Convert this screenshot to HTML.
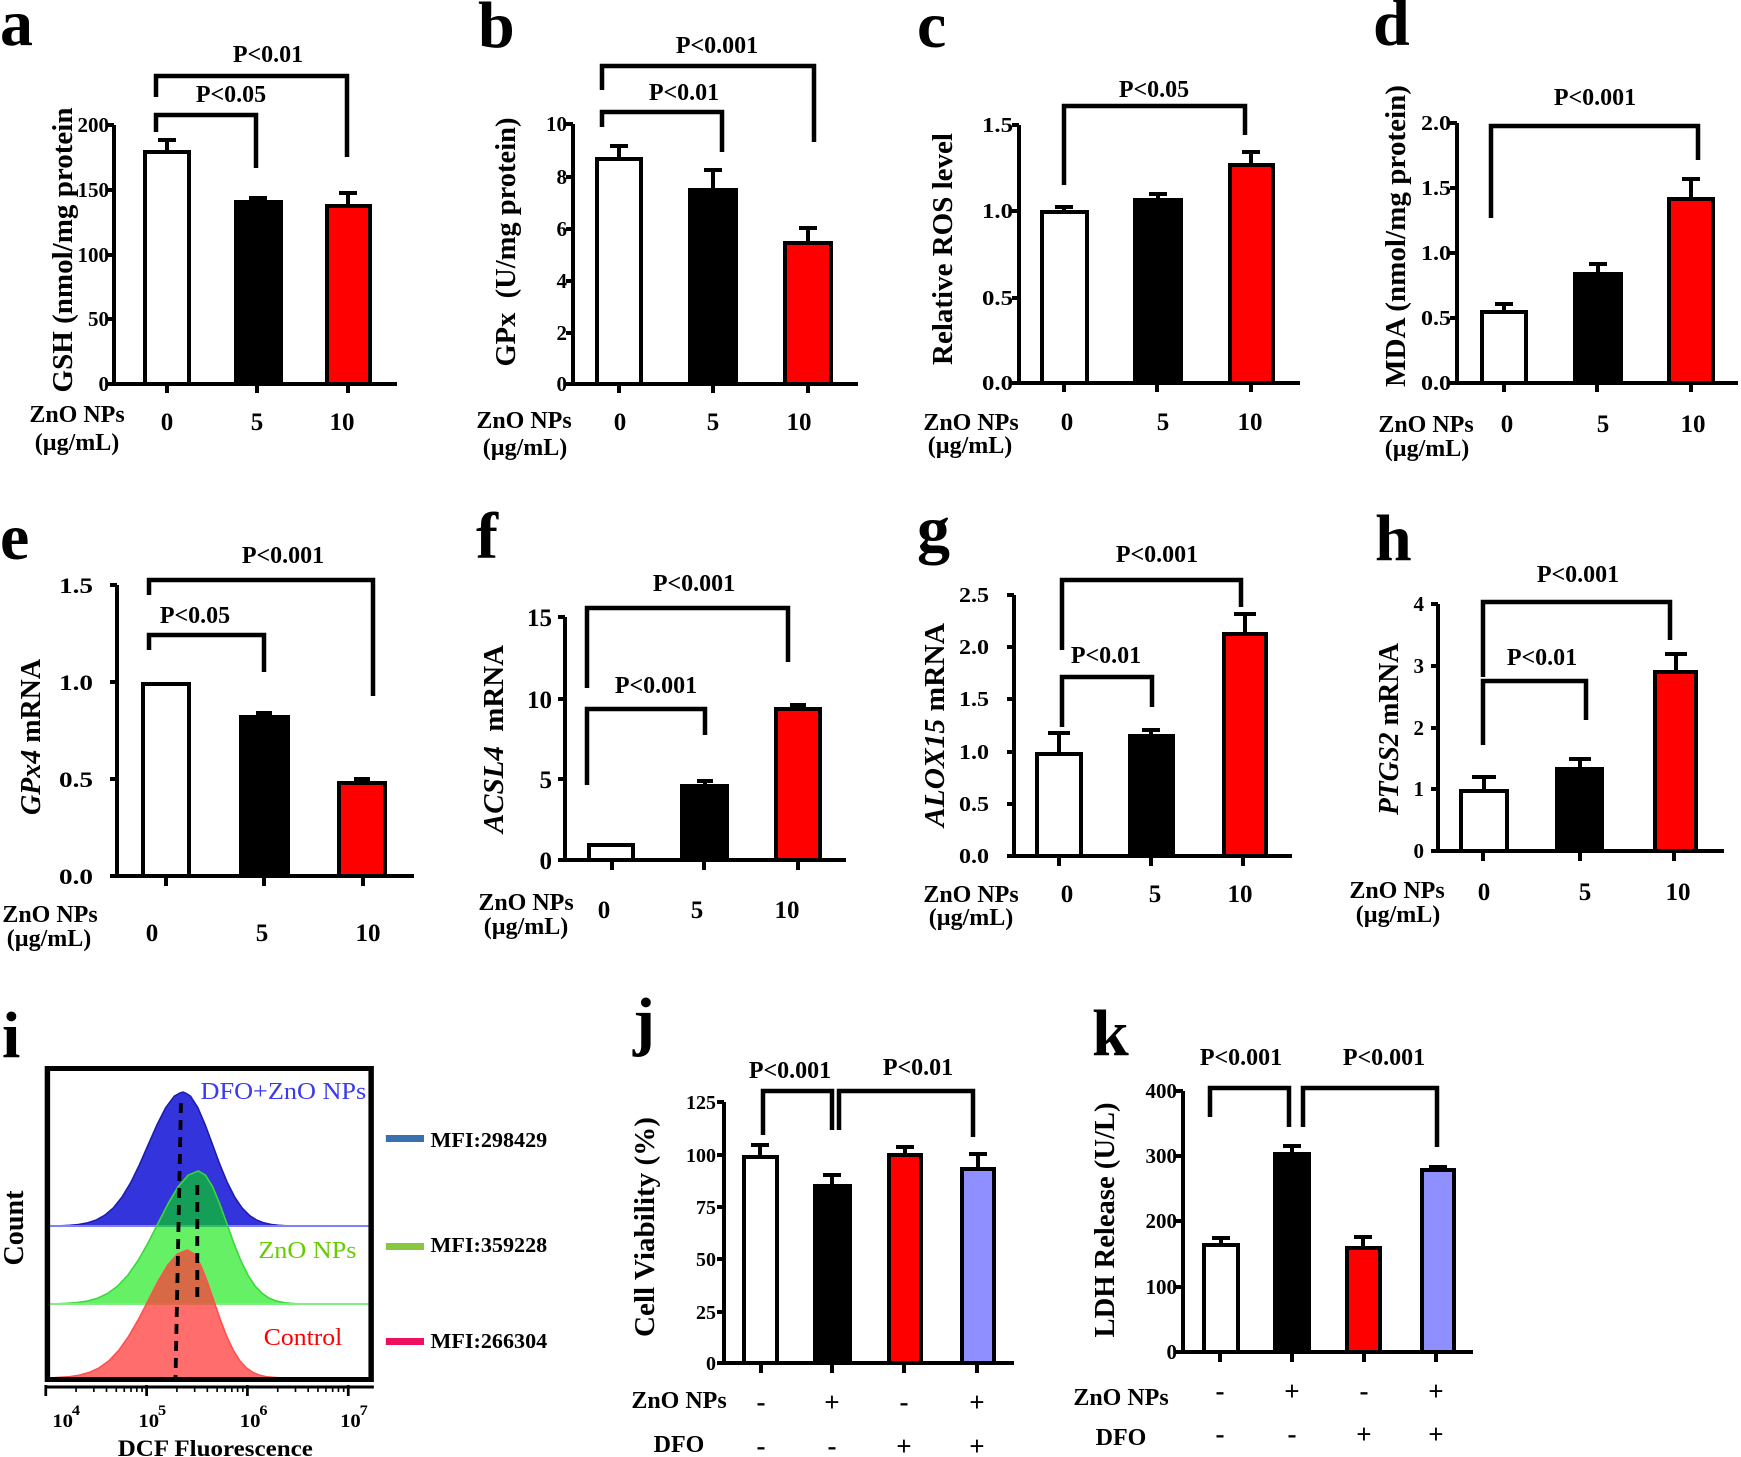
<!DOCTYPE html>
<html>
<head>
<meta charset="utf-8">
<style>
html,body{margin:0;padding:0;background:#fff;}
svg{display:block;}
</style>
</head>
<body>
<svg width="1741" height="1457" viewBox="0 0 1741 1457" xmlns="http://www.w3.org/2000/svg">
<rect width="1741" height="1457" fill="#fff"/>
<g font-family="'Liberation Serif', serif" font-weight="bold" fill="#000">

<!-- panel letters -->
<g font-size="66">
<text x="0" y="45">a</text>
<text x="478" y="47">b</text>
<text x="917" y="47">c</text>
<text x="1373" y="45">d</text>
<text x="0" y="559">e</text>
<text x="476" y="558">f</text>
<text x="917" y="551">g</text>
<text x="1375" y="560">h</text>
<text x="2" y="1057">i</text>
<text x="633" y="1043">j</text>
<text x="1092" y="1055">k</text>
</g>

<!-- ================= BARS ================= -->
<g stroke="#000" stroke-width="4">
<!-- a -->
<rect x="145" y="152" width="44" height="232" fill="#fff"/>
<rect x="236" y="202" width="45" height="182" fill="#000"/>
<rect x="327" y="206" width="43" height="178" fill="#f00"/>
<!-- b -->
<rect x="597" y="159" width="44" height="225" fill="#fff"/>
<rect x="690" y="190" width="46" height="194" fill="#000"/>
<rect x="785" y="243" width="46" height="141" fill="#f00"/>
<!-- c -->
<rect x="1042" y="212" width="45" height="171" fill="#fff"/>
<rect x="1135" y="200" width="46" height="183" fill="#000"/>
<rect x="1230" y="165" width="43" height="218" fill="#f00"/>
<!-- d -->
<rect x="1482" y="312" width="44" height="71" fill="#fff"/>
<rect x="1575" y="274" width="46" height="109" fill="#000"/>
<rect x="1669" y="199" width="44" height="184" fill="#f00"/>
<!-- e -->
<rect x="143" y="684" width="46" height="192" fill="#fff"/>
<rect x="241" y="717" width="47" height="159" fill="#000"/>
<rect x="339" y="783" width="46" height="93" fill="#f00"/>
<!-- f -->
<rect x="589" y="845" width="44" height="15" fill="#fff"/>
<rect x="682" y="786" width="45" height="74" fill="#000"/>
<rect x="776" y="709" width="44" height="151" fill="#f00"/>
<!-- g -->
<rect x="1037" y="754" width="44" height="102" fill="#fff"/>
<rect x="1130" y="736" width="43" height="120" fill="#000"/>
<rect x="1224" y="634" width="42" height="222" fill="#f00"/>
<!-- h -->
<rect x="1461" y="791" width="46" height="60" fill="#fff"/>
<rect x="1557" y="769" width="45" height="82" fill="#000"/>
<rect x="1655" y="672" width="41" height="179" fill="#f00"/>
<!-- j -->
<rect x="744" y="1157" width="33" height="206" fill="#fff"/>
<rect x="815" y="1186" width="35" height="177" fill="#000"/>
<rect x="889" y="1155" width="32" height="208" fill="#f00"/>
<rect x="962" y="1169" width="32" height="194" fill="#8f8fff"/>
<!-- k -->
<rect x="1204" y="1245" width="34" height="107" fill="#fff"/>
<rect x="1275" y="1154" width="34" height="198" fill="#000"/>
<rect x="1347" y="1248" width="33" height="104" fill="#f00"/>
<rect x="1422" y="1170" width="32" height="182" fill="#8f8fff"/>
</g>

<!-- ================= AXES, ERRORS, BRACKETS ================= -->
<g stroke="#000" stroke-width="4" fill="none" stroke-linejoin="miter" stroke-linecap="butt">
<!-- a -->
<path d="M114,125V384H397 M107,125H114 M107,190H114 M107,255H114 M107,319H114 M107,384H114 M167,384V393 M257,384V393 M348,384V393"/>
<path d="M167,150V140 M158,140H176 M258,200V198 M249,198H267 M348,204V193 M339,193H357"/>
<path stroke-width="4.5" d="M156,132V115H256V168 M156,97V76H347V157"/>
<!-- b -->
<path d="M573,124V384H858 M566,124H573 M566,177H573 M566,229H573 M566,281H573 M566,333H573 M566,384H573 M619,384V393 M713,384V393 M808,384V393"/>
<path d="M619,157V146 M610,146H628 M713,188V170 M704,170H722 M808,241V228 M799,228H817"/>
<path stroke-width="4.5" d="M602,127V112H722V152 M602,90V66H814V142"/>
<!-- c -->
<path d="M1019,125V383H1300 M1012,125H1019 M1012,211H1019 M1012,298H1019 M1012,383H1019 M1064,383V392 M1157,383V392 M1251,383V392"/>
<path d="M1064,210V207 M1055,207H1073 M1158,198V194 M1149,194H1167 M1251,163V152 M1242,152H1260"/>
<path stroke-width="4.5" d="M1064,185V106H1245V135"/>
<!-- d -->
<path d="M1457,123V383H1738 M1450,123H1457 M1450,188H1457 M1450,253H1457 M1450,318H1457 M1450,383H1457 M1504,383V392 M1597,383V392 M1691,383V392"/>
<path d="M1504,310V304 M1495,304H1513 M1598,272V264 M1589,264H1607 M1691,197V179 M1682,179H1700"/>
<path stroke-width="4.5" d="M1491,218V126H1698V160"/>
<!-- e -->
<path d="M117,585V876H414 M110,585H117 M110,682H117 M110,779H117 M110,876H117 M166,876V886 M264,876V886 M363,876V886"/>
<path d="M264,715V713 M256,713H272 M362,781V779 M354,779H370"/>
<path stroke-width="4.5" d="M149,650V635H264V672 M149,595V580H373V696"/>
<!-- f -->
<path d="M565,617V860H846 M558,617H565 M558,699H565 M558,779H565 M558,860H565 M612,860V870 M704,860V870 M798,860V870"/>
<path d="M705,784V781 M697,781H713 M798,707V705 M790,705H806"/>
<path stroke-width="4.5" d="M587,785V709H705V735 M587,688V608H788V662"/>
<!-- g -->
<path d="M1014,595V856H1292 M1007,595H1014 M1007,647H1014 M1007,699H1014 M1007,752H1014 M1007,804H1014 M1007,856H1014 M1059,856V866 M1151,856V866 M1243,856V866"/>
<path d="M1059,752V733 M1048,733H1070 M1151,734V730 M1142,730H1160 M1245,632V614 M1234,614H1256"/>
<path stroke-width="4.5" d="M1062,727V677H1152V707 M1062,650V580H1241V607"/>
<!-- h -->
<path d="M1438,604V851H1724 M1431,604H1438 M1431,666H1438 M1431,728H1438 M1431,789H1438 M1431,851H1438 M1483,851V861 M1580,851V861 M1674,851V861"/>
<path d="M1484,789V777 M1472,777H1496 M1580,767V759 M1569,759H1591 M1676,670V654 M1665,654H1687"/>
<path stroke-width="4.5" d="M1483,745V681H1586V720 M1483,677V602H1670V640"/>
<!-- j -->
<path d="M724,1102V1363H1014 M717,1102H724 M717,1155H724 M717,1207H724 M717,1259H724 M717,1312H724 M717,1363H724 M761,1363V1373 M832,1363V1373 M904,1363V1373 M977,1363V1373"/>
<path d="M760,1155V1145 M751,1145H769 M832,1184V1175 M823,1175H841 M905,1153V1147 M896,1147H914 M978,1167V1154 M969,1154H987"/>
<path stroke-width="4.5" d="M763,1135V1091H832V1130 M839,1130V1091H973V1137"/>
<!-- k -->
<path d="M1183,1091V1352H1473 M1176,1091H1183 M1176,1156H1183 M1176,1221H1183 M1176,1287H1183 M1176,1352H1183 M1220,1352V1362 M1292,1352V1362 M1364,1352V1362 M1436,1352V1362"/>
<path d="M1221,1243V1238 M1212,1238H1230 M1292,1152V1146 M1283,1146H1301 M1363,1246V1237 M1354,1237H1372 M1438,1168V1167 M1429,1167H1447"/>
<path stroke-width="4.5" d="M1210,1117V1088H1289V1127 M1303,1127V1088H1437V1147"/>
</g>

<!-- ================= P VALUES ================= -->
<g font-size="24" text-anchor="middle">
<text x="231" y="102">P&lt;0.05</text>
<text x="268" y="62">P&lt;0.01</text>
<text x="684" y="100">P&lt;0.01</text>
<text x="717" y="53">P&lt;0.001</text>
<text x="1154" y="97">P&lt;0.05</text>
<text x="1595" y="105">P&lt;0.001</text>
<text x="195" y="623">P&lt;0.05</text>
<text x="283" y="563">P&lt;0.001</text>
<text x="656" y="693">P&lt;0.001</text>
<text x="694" y="591">P&lt;0.001</text>
<text x="1106" y="663">P&lt;0.01</text>
<text x="1157" y="562">P&lt;0.001</text>
<text x="1542" y="665">P&lt;0.01</text>
<text x="1578" y="582">P&lt;0.001</text>
<text x="790" y="1078">P&lt;0.001</text>
<text x="918" y="1075">P&lt;0.01</text>
<text x="1241" y="1065">P&lt;0.001</text>
<text x="1384" y="1065">P&lt;0.001</text>
</g>

<!-- ================= Y TICK LABELS ================= -->
<g font-size="21" text-anchor="end">
<text x="109" y="132">200</text><text x="109" y="197">150</text><text x="109" y="262">100</text><text x="109" y="326">50</text><text x="109" y="391">0</text>
<text x="567" y="131">10</text><text x="567" y="184">8</text><text x="567" y="236">6</text><text x="567" y="288">4</text><text x="567" y="340">2</text><text x="567" y="391">0</text>
<text x="1013" y="132" textLength="31" lengthAdjust="spacingAndGlyphs">1.5</text><text x="1013" y="218" textLength="31" lengthAdjust="spacingAndGlyphs">1.0</text><text x="1013" y="305" textLength="31" lengthAdjust="spacingAndGlyphs">0.5</text><text x="1013" y="390" textLength="31" lengthAdjust="spacingAndGlyphs">0.0</text>
<text x="1451" y="130" textLength="30" lengthAdjust="spacingAndGlyphs">2.0</text><text x="1451" y="195" textLength="30" lengthAdjust="spacingAndGlyphs">1.5</text><text x="1451" y="260" textLength="30" lengthAdjust="spacingAndGlyphs">1.0</text><text x="1451" y="325" textLength="30" lengthAdjust="spacingAndGlyphs">0.5</text><text x="1451" y="390" textLength="30" lengthAdjust="spacingAndGlyphs">0.0</text>
<text x="93" y="593" font-size="22" textLength="34" lengthAdjust="spacingAndGlyphs">1.5</text><text x="93" y="690" font-size="22" textLength="34" lengthAdjust="spacingAndGlyphs">1.0</text><text x="93" y="787" font-size="22" textLength="34" lengthAdjust="spacingAndGlyphs">0.5</text><text x="93" y="884" font-size="22" textLength="34" lengthAdjust="spacingAndGlyphs">0.0</text>
<text x="552" y="626" font-size="25">15</text><text x="552" y="708" font-size="25">10</text><text x="552" y="788" font-size="25">5</text><text x="552" y="869" font-size="25">0</text>
<text x="989" y="602" textLength="30" lengthAdjust="spacingAndGlyphs">2.5</text><text x="989" y="654" textLength="30" lengthAdjust="spacingAndGlyphs">2.0</text><text x="989" y="706" textLength="30" lengthAdjust="spacingAndGlyphs">1.5</text><text x="989" y="759" textLength="30" lengthAdjust="spacingAndGlyphs">1.0</text><text x="989" y="811" textLength="30" lengthAdjust="spacingAndGlyphs">0.5</text><text x="989" y="863" textLength="30" lengthAdjust="spacingAndGlyphs">0.0</text>
<text x="1424" y="611">4</text><text x="1424" y="673">3</text><text x="1424" y="735">2</text><text x="1424" y="796">1</text><text x="1424" y="858">0</text>
<text x="716" y="1109" font-size="20">125</text><text x="716" y="1162" font-size="20">100</text><text x="716" y="1214" font-size="20">75</text><text x="716" y="1266" font-size="20">50</text><text x="716" y="1319" font-size="20">25</text><text x="716" y="1370" font-size="20">0</text>
<text x="1177" y="1098">400</text><text x="1177" y="1163">300</text><text x="1177" y="1228">200</text><text x="1177" y="1294">100</text><text x="1177" y="1359">0</text>
</g>

<!-- ================= X TICK LABELS ================= -->
<g font-size="25" text-anchor="middle">
<text x="167" y="430">0</text><text x="257" y="430">5</text><text x="342" y="430">10</text>
<text x="620" y="430">0</text><text x="713" y="430">5</text><text x="799" y="430">10</text>
<text x="1067" y="430">0</text><text x="1163" y="430">5</text><text x="1250" y="430">10</text>
<text x="1507" y="432">0</text><text x="1603" y="432">5</text><text x="1693" y="432">10</text>
<text x="152" y="941">0</text><text x="262" y="941">5</text><text x="368" y="941">10</text>
<text x="604" y="918">0</text><text x="697" y="918">5</text><text x="787" y="918">10</text>
<text x="1067" y="902">0</text><text x="1155" y="902">5</text><text x="1240" y="902">10</text>
<text x="1484" y="900">0</text><text x="1585" y="900">5</text><text x="1678" y="900">10</text>
</g>

<!-- ZnO NPs / units -->
<g font-size="24" text-anchor="middle">
<text x="77" y="422">ZnO NPs</text><text x="77" y="450">(µg/mL)</text>
<text x="524" y="428">ZnO NPs</text><text x="525" y="455">(µg/mL)</text>
<text x="971" y="430">ZnO NPs</text><text x="970" y="453">(µg/mL)</text>
<text x="1426" y="432">ZnO NPs</text><text x="1427" y="456">(µg/mL)</text>
<text x="50" y="922">ZnO NPs</text><text x="49" y="946">(µg/mL)</text>
<text x="526" y="910">ZnO NPs</text><text x="526" y="934">(µg/mL)</text>
<text x="971" y="902">ZnO NPs</text><text x="971" y="925">(µg/mL)</text>
<text x="1397" y="898">ZnO NPs</text><text x="1398" y="922">(µg/mL)</text>
<text x="679" y="1408">ZnO NPs</text><text x="679" y="1452">DFO</text>
<text x="1121" y="1405">ZnO NPs</text><text x="1121" y="1445">DFO</text>
</g>

<!-- +/- signs -->
<g font-size="27" text-anchor="middle">
<text x="761" y="1411">-</text><text x="832" y="1411">+</text><text x="904" y="1411">-</text><text x="977" y="1411">+</text>
<text x="761" y="1455">-</text><text x="832" y="1455">-</text><text x="904" y="1455">+</text><text x="977" y="1455">+</text>
<text x="1220" y="1400">-</text><text x="1292" y="1400">+</text><text x="1364" y="1400">-</text><text x="1436" y="1400">+</text>
<text x="1220" y="1443">-</text><text x="1292" y="1443">-</text><text x="1364" y="1443">+</text><text x="1436" y="1443">+</text>
</g>

<!-- ================= Y TITLES ================= -->
<g font-size="29" text-anchor="middle">
<text transform="translate(72,250) rotate(-90)" textLength="285" lengthAdjust="spacingAndGlyphs">GSH (nmol/mg protein</text>
<text transform="translate(515,242) rotate(-90)" textLength="249" lengthAdjust="spacingAndGlyphs">GPx&#160; (U/mg protein)</text>
<text transform="translate(952,249) rotate(-90)" textLength="232" lengthAdjust="spacingAndGlyphs">Relative ROS level</text>
<text transform="translate(1405,236) rotate(-90)" textLength="302" lengthAdjust="spacingAndGlyphs">MDA (nmol/mg protein)</text>
<text transform="translate(40,737) rotate(-90)" textLength="156" lengthAdjust="spacingAndGlyphs"><tspan font-style="italic">GPx4</tspan> mRNA</text>
<text transform="translate(503,739) rotate(-90)" textLength="188" lengthAdjust="spacingAndGlyphs"><tspan font-style="italic">ACSL4</tspan>&#160; mRNA</text>
<text transform="translate(944,725) rotate(-90)" textLength="204" lengthAdjust="spacingAndGlyphs"><tspan font-style="italic">ALOX15</tspan> mRNA</text>
<text transform="translate(1398,729) rotate(-90)" textLength="172" lengthAdjust="spacingAndGlyphs"><tspan font-style="italic">PTGS2</tspan> mRNA</text>
<text transform="translate(654,1227) rotate(-90)" textLength="220" lengthAdjust="spacingAndGlyphs">Cell Viability (%)</text>
<text transform="translate(1114,1220) rotate(-90)" textLength="235" lengthAdjust="spacingAndGlyphs">LDH Release (U/L)</text>
<text transform="translate(23,1228) rotate(-90)" font-size="28" textLength="75" lengthAdjust="spacingAndGlyphs">Count</text>
</g>

<!-- ================= PANEL i (histogram) ================= -->
<g transform="scale(1.09,1)">
<path d="M46,1226 L56,1225.7 L64,1225.3 L72,1224.5 L80,1222.9 L88,1220.1 L96,1215.3 L104,1207.9 L112,1197 L120,1182.5 L128,1164.7 L136,1144.7 L144,1124.9 L152,1107.7 L160,1096.1 L165,1093 L168,1092 L171,1093.5 L174.75,1096.1 L181.5,1107.7 L188.25,1124.9 L195,1144.7 L201.75,1164.7 L208.5,1182.5 L215.25,1197 L222,1207.9 L228.75,1215.3 L235.5,1220.1 L242.25,1222.9 L249,1224.5 L255.75,1225.3 L262.5,1225.7 L270,1226 Z" fill="#3434dc" stroke="#1c1cb0" stroke-width="1.5"/>
<line x1="46" y1="1226" x2="339" y2="1226" stroke="#8080ff" stroke-width="2"/>
<path d="M46,1304 L52.5,1303.7 L61.75,1303.3 L71,1302.5 L80.25,1301 L89.5,1298.2 L98.75,1293.4 L108,1286 L117.25,1275.2 L126.5,1260.8 L135.75,1243.1 L145,1223.3 L154.25,1203.6 L163.5,1186.6 L172.75,1175.1 L182,1171 L188.5,1175.1 L195,1186.6 L201.5,1203.6 L208,1223.3 L214.5,1243.1 L221,1260.8 L227.5,1275.2 L234,1286 L240.5,1293.4 L247,1298.2 L253.5,1301 L260,1302.5 L266.5,1303.3 L273,1303.7 L280,1304 Z" fill="#00e600" fill-opacity="0.6" stroke="#3ad83a" stroke-width="1.5"/>
<line x1="46" y1="1304" x2="339" y2="1304" stroke="#80ee80" stroke-width="2"/>
<path d="M46,1378 L55,1377.3 L64,1376.6 L73,1375.1 L82,1372.4 L91,1367.8 L100,1360.7 L109,1350.3 L118,1336.4 L127,1319.4 L136,1300.4 L145,1281.4 L154,1265 L163,1253.9 L172,1250 L178,1253.9 L184,1265 L190,1281.4 L196,1300.4 L202,1319.4 L208,1336.4 L214,1350.3 L220,1360.7 L226,1367.8 L232,1372.4 L238,1375.1 L244,1376.6 L250,1377.3 L256,1377.7 L262,1378 Z" fill="#ff3c3c" fill-opacity="0.75" stroke="#ff5050" stroke-width="1.5"/>
<path d="M166,1103 L161,1378 M181,1185 V1300" stroke="#000" stroke-width="3.5" stroke-dasharray="10 7" fill="none"/>
<rect x="43.5" y="1068.5" width="297" height="311" fill="none" stroke="#000" stroke-width="5"/>

<text x="184" y="1099" font-size="24" font-weight="normal" fill="#3a3af0" textLength="152" lengthAdjust="spacingAndGlyphs">DFO+ZnO NPs</text>
<text x="237" y="1258" font-size="24" font-weight="normal" fill="#66cc00" textLength="90" lengthAdjust="spacingAndGlyphs">ZnO NPs</text>
<text x="242" y="1345" font-size="24" font-weight="normal" fill="#ff0000" textLength="72" lengthAdjust="spacingAndGlyphs">Control</text>

<rect x="354" y="1135" width="35" height="7" fill="#3a6fb0"/>
<rect x="354" y="1243" width="35" height="7" fill="#88c840"/>
<rect x="354" y="1338" width="35" height="7" fill="#ee1060"/>
<g font-size="21">
<text x="395" y="1147" textLength="107" lengthAdjust="spacingAndGlyphs">MFI:298429</text>
<text x="395" y="1252" textLength="107" lengthAdjust="spacingAndGlyphs">MFI:359228</text>
<text x="395" y="1348" textLength="107" lengthAdjust="spacingAndGlyphs">MFI:266304</text>
</g>

<!-- log axis -->
<g stroke="#000" fill="none">
<path stroke-width="3" d="M42,1387H343"/>
<path stroke-width="2.5" d="M42,1385V1396 M134.5,1385V1396 M227,1385V1396 M319.5,1385V1396"/>
<path stroke-width="1.5" d="M69.8,1387V1392 M86.1,1387V1392 M97.7,1387V1392 M106.7,1387V1392 M114,1387V1392 M120.2,1387V1392 M125.5,1387V1392 M130.3,1387V1392 M162.3,1387V1392 M178.6,1387V1392 M190.2,1387V1392 M199.2,1387V1392 M206.5,1387V1392 M212.7,1387V1392 M218,1387V1392 M222.8,1387V1392 M254.8,1387V1392 M271.1,1387V1392 M282.7,1387V1392 M291.7,1387V1392 M299,1387V1392 M305.2,1387V1392 M310.5,1387V1392 M315.3,1387V1392"/>
</g>
<g font-size="19">
<text x="48" y="1427">10</text><text x="66" y="1415" font-size="15">4</text>
<text x="127" y="1427">10</text><text x="145" y="1415" font-size="15">5</text>
<text x="220" y="1427">10</text><text x="238" y="1415" font-size="15">6</text>
<text x="312" y="1427">10</text><text x="330" y="1415" font-size="15">7</text>
</g>
<text x="108" y="1456" font-size="23" textLength="179" lengthAdjust="spacingAndGlyphs">DCF Fluorescence</text>
</g>

</g>
</svg>
</body>
</html>
